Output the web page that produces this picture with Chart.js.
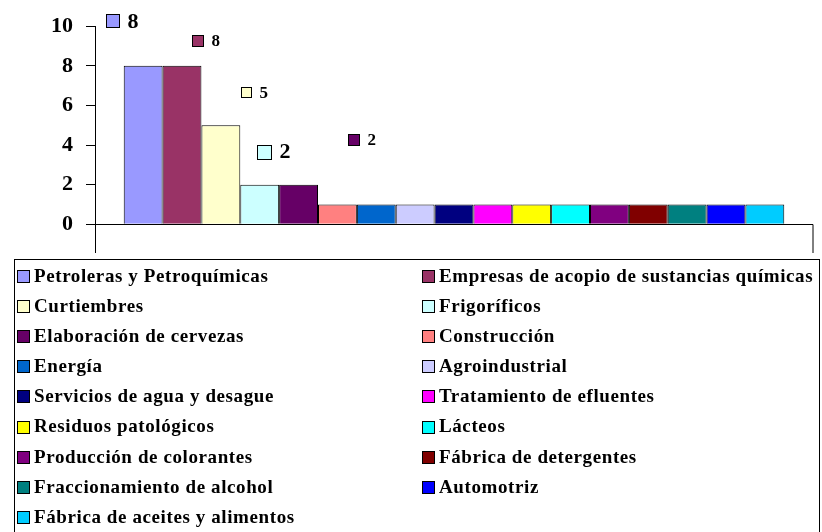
<!DOCTYPE html>
<html>
<head>
    <meta charset="UTF-8">
    <title>Sectores</title>
    <script src="https://cdn.jsdelivr.net/npm/chart.js@4"></script>
    <style>
        body { margin: 0; background: #fff; }
    </style>
</head>
<body>
    <canvas id="chart" width="822" height="532"></canvas>
    <script>
    const categories = [
        'Petroleras y Petroquímicas', 'Empresas de acopio de sustancias químicas',
        'Curtiembres', 'Frigoríficos',
        'Elaboración de cervezas', 'Construcción',
        'Energía', 'Agroindustrial',
        'Servicios de agua y desague', 'Tratamiento de efluentes',
        'Residuos patológicos', 'Lácteos',
        'Producción de colorantes', 'Fábrica de detergentes',
        'Fraccionamiento de alcohol', 'Automotriz',
        'Fábrica de aceites y alimentos'
    ];
    const counts = [8, 8, 5, 2, 2, 1, 1, 1, 1, 1, 1, 1, 1, 1, 1, 1, 1];
    const colors = [
        '#9999FF', '#993366', '#FFFFCC', '#CCFFFF', '#660066', '#FF8080',
        '#0066CC', '#CCCCFF', '#000080', '#FF00FF', '#FFFF00', '#00FFFF',
        '#800080', '#800000', '#008080', '#0000FF', '#00CCFF'
    ];
    const yTicks = [0, 2, 4, 6, 8, 10];

    // where the value labels sit (only the first five bars have one)
    const labelStyle = [
        { dx: -37, dy: -45, box: 13, size: 22 },
        { dx: 10, dy: -25, box: 11, size: 17 },
        { dx: 20, dy: -33, box: 10, size: 17 },
        { dx: -3, dy: -33, box: 14, size: 22 },
        { dx: 49, dy: -45, box: 11, size: 17 }
    ];

    const serif = '"Liberation Serif", "Times New Roman", serif';

    const datasets = categories.map((name, i) => ({
        label: name,
        data: [counts[i]],
        backgroundColor: colors[i],
        borderColor: '#000',
        borderWidth: 1,
        borderSkipped: 'bottom',
        categoryPercentage: 0.92,
        barPercentage: 1.0
    }));

    const extras = {
        id: 'extras',
        afterDatasetsDraw(chart) {
            const ctx = chart.ctx;
            const area = chart.chartArea;
            const y0 = chart.scales.y.getPixelForValue(0);
            ctx.save();
            ctx.strokeStyle = '#000';
            ctx.lineWidth = 1;
            ctx.beginPath();
            ctx.moveTo(area.left, Math.round(y0) + 0.5);
            ctx.lineTo(area.right, Math.round(y0) + 0.5);
            ctx.lineTo(area.right, area.bottom + 1);
            ctx.stroke();

            // value labels with their little legend keys
            labelStyle.forEach((st, i) => {
                const bar = chart.getDatasetMeta(i).data[0];
                const cy = bar.y + st.dy;
                const bx = Math.round(bar.x + st.dx) + 0.5;
                const by = Math.round(cy - st.box / 2) + 0.5;
                ctx.fillStyle = colors[i];
                ctx.fillRect(bx, by, st.box, st.box);
                ctx.strokeRect(bx, by, st.box, st.box);
                ctx.fillStyle = '#000';
                ctx.font = 'bold ' + st.size + 'px ' + serif;
                ctx.textAlign = 'left';
                ctx.textBaseline = 'middle';
                ctx.fillText(String(counts[i]), bx + st.box + 8, cy + 1);
            });

            // legend box, two columns
            ctx.strokeRect(14.5, 259.5, 805, 300);
            ctx.font = 'bold 19px ' + serif;
            ctx.letterSpacing = '0.6px';
            categories.forEach((name, i) => {
                const col = i % 2, row = Math.floor(i / 2);
                const x = col === 0 ? 17 : 422;
                const cy = 276 + row * 30.1;
                ctx.fillStyle = colors[i];
                ctx.fillRect(x + 0.5, Math.round(cy - 6) + 0.5, 12, 12);
                ctx.strokeRect(x + 0.5, Math.round(cy - 6) + 0.5, 12, 12);
                ctx.fillStyle = '#000';
                ctx.fillText(name, x + 17, cy + 1);
            });
            ctx.restore();
        }
    };

    new Chart(document.getElementById('chart').getContext('2d'), {
        type: 'bar',
        data: { labels: [''], datasets: datasets },
        options: {
            responsive: false,
            animation: false,
            layout: { padding: { top: 24, right: 9, bottom: 280, left: 0 } },
            plugins: { legend: { display: false }, tooltip: { enabled: false } },
            scales: {
                x: { display: false },
                y: {
                    min: -1.4,
                    max: 10,
                    afterBuildTicks: scale => { scale.ticks = yTicks.map(v => ({ value: v })); },
                    afterFit: scale => { scale.width = 95; },
                    grid: { drawOnChartArea: false, drawTicks: true, tickLength: 9, color: '#000' },
                    border: { display: true, color: '#000', width: 1 },
                    ticks: {
                        color: '#000',
                        padding: 13,
                        font: { family: serif, size: 22, weight: 'bold' }
                    }
                }
            }
        },
        plugins: [extras]
    });
    </script>
</body>
</html>
